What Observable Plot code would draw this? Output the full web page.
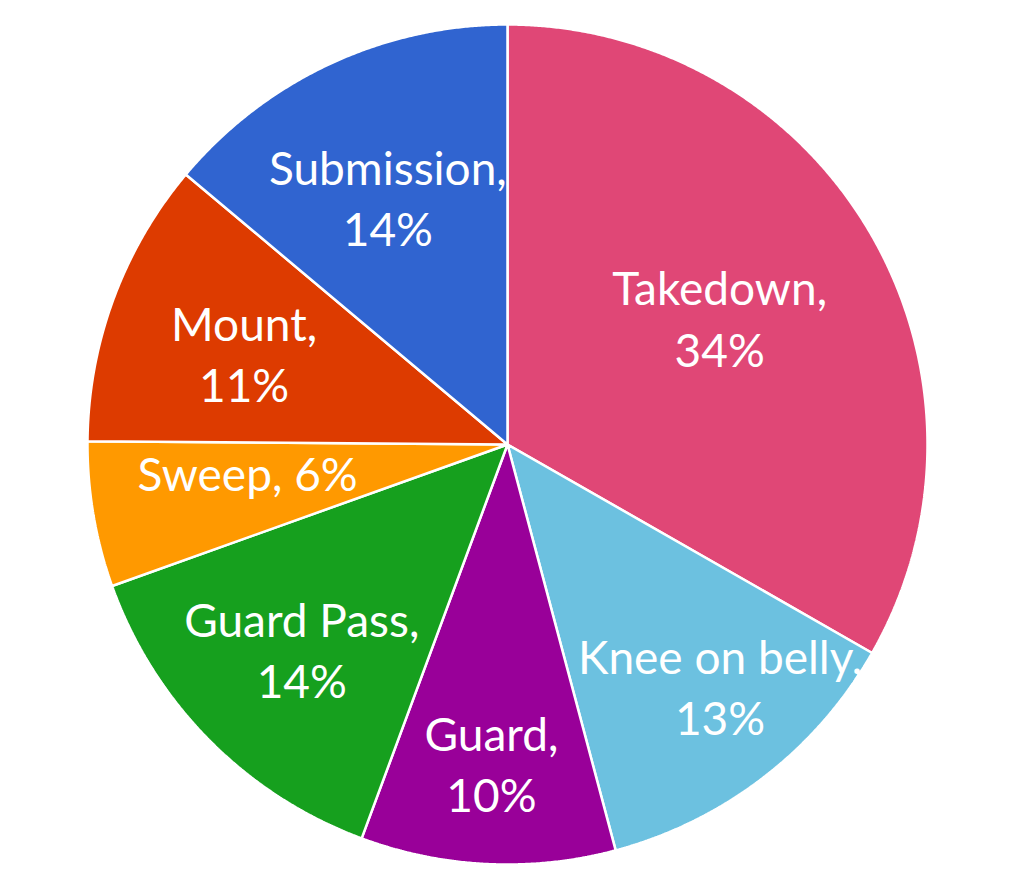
<!DOCTYPE html>
<html>
<head>
<meta charset="utf-8">
<script src="https://cdn.jsdelivr.net/npm/d3@7"></script>
<script src="https://cdn.jsdelivr.net/npm/@observablehq/plot@0.6"></script>
<style>
  html, body { margin: 0; padding: 0; background: #fff; }
  #chart svg { display: block; }
</style>
</head>
<body>
<div id="chart"></div>
<script>
// Data (clockwise from 12 o'clock)
const categories = ["Takedown", "Knee on belly", "Guard", "Guard Pass", "Sweep", "Mount", "Submission"];
const shares = [33.3, 12.6, 9.8, 13.9, 5.6, 11.0, 13.9];
const percentLabels = ["34%", "13%", "10%", "14%", "6%", "11%", "14%"];
const singleLine = [false, false, false, false, true, false, false];
const colors = ["#E04776", "#6CC1E0", "#990099", "#16A01E", "#FF9900", "#DD3B00", "#3064D0"];
// label placement: fraction of radius, and small angular nudge (degrees) from each slice's mid-angle
const labelRadius = [0.59, 0.764, 0.756, 0.689, 0.622, 0.665, 0.657];
const labelNudge = [-1.0, -3.9, 0.2, 0, 3.7, -0.8, -0.7];

const pie = d3.pie().sort(null).value(d => d)(shares);

const slicePoints = [];
pie.forEach((p, i) => {
  const name = categories[i];
  slicePoints.push({name, x: 0, y: 0});
  const steps = Math.max(2, Math.ceil((p.endAngle - p.startAngle) / (Math.PI / 720)));
  for (let k = 0; k <= steps; k++) {
    const a = p.startAngle + (p.endAngle - p.startAngle) * k / steps;
    slicePoints.push({name, x: Math.sin(a), y: Math.cos(a)});
  }
});

const labelData = pie.map((p, i) => {
  const a = (p.startAngle + p.endAngle) / 2 + labelNudge[i] * Math.PI / 180;
  const r = labelRadius[i];
  return {
    name: categories[i],
    x: r * Math.sin(a),
    y: r * Math.cos(a),
    text: singleLine[i] ? `${categories[i]}, ${percentLabels[i]}` : `${categories[i]},\n${percentLabels[i]}`
  };
});

const W = 1013, H = 889;
const chart = Plot.plot({
  width: W,
  height: H,
  marginLeft: 87,
  marginRight: 86,
  marginTop: 24,
  marginBottom: 25,
  x: {domain: [-1, 1], axis: null},
  y: {domain: [-1, 1], axis: null},
  color: {domain: categories, range: colors},
  style: {fontFamily: "Lato, 'Open Sans', sans-serif", background: "#fff"},
  marks: [
    Plot.line(slicePoints, {
      x: "x", y: "y", z: "name", fill: "name",
      stroke: "white", strokeWidth: 2.5, strokeLinejoin: "miter",
      curve: "linear-closed"
    }),
    Plot.text(labelData, {
      x: "x", y: "y", text: "text",
      fill: "white", fontSize: 46, lineHeight: 1.33,
      textAnchor: "middle", lineAnchor: "middle"
    })
  ]
});
document.getElementById("chart").appendChild(chart);
</script>
</body>
</html>
